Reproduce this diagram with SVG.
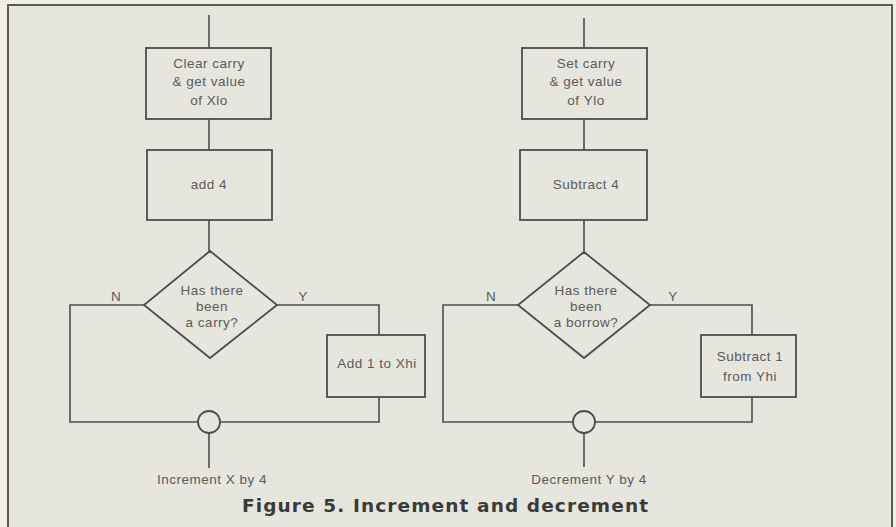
<svg xmlns="http://www.w3.org/2000/svg" width="896" height="527" viewBox="0 0 896 527">
  <style>
    .ln { fill: none; stroke: #4d4d4b; stroke-width: 1.6; }
    .bx { fill: none; stroke: #4d4d4b; stroke-width: 1.8; }
    .frame { fill: none; stroke: #5a5a57; stroke-width: 2; }
    .t { font-family: "Liberation Sans", Arial, sans-serif; font-size: 13.5px; fill: #5c5c5a; text-anchor: middle; letter-spacing: 0.5px; }
    .title { font-family: "DejaVu Sans", "Liberation Sans", sans-serif; font-size: 18.5px; font-weight: bold; fill: #3a3a38; }
  </style>

  <!-- paper -->
  <rect x="0" y="0" width="896" height="527" fill="#f1efe4"/>
  <rect x="8" y="5" width="884" height="522" fill="#e6e5de"/>
  <path class="frame" d="M8 527 V5 H892 V527"/>

  <!-- connectors -->
  <g id="connectors">
    <!-- increment flow -->
    <path class="ln" d="M209 15 V48"/>
    <path class="ln" d="M209 119 V150"/>
    <path class="ln" d="M209 220 V251"/>
    <path class="ln" d="M144 305 H70 V422 H198"/>
    <path class="ln" d="M277 305 H379 V335"/>
    <path class="ln" d="M379 397 V422 H220"/>
    <path class="ln" d="M209 433 V468"/>
    <!-- decrement flow -->
    <path class="ln" d="M584 18 V48"/>
    <path class="ln" d="M584 119 V150"/>
    <path class="ln" d="M584 220 V252"/>
    <path class="ln" d="M518 305 H443 V422 H573"/>
    <path class="ln" d="M650 305 H752 V335"/>
    <path class="ln" d="M752 397 V422 H595"/>
    <path class="ln" d="M584 433 V467"/>
  </g>

  <!-- increment X -->
  <g id="clear-carry">
    <rect class="bx" x="146" y="48" width="125" height="71"/>
    <text class="t" x="209" y="68">Clear carry</text>
    <text class="t" x="209" y="86">&amp; get value</text>
    <text class="t" x="209" y="105">of Xlo</text>
  </g>
  <g id="add-4">
    <rect class="bx" x="147" y="150" width="125" height="70"/>
    <text class="t" x="209" y="189">add 4</text>
  </g>
  <g id="carry-test">
    <polygon class="bx" points="210,251 277,305 210,358 144,305"/>
    <text class="t" x="212" y="295">Has there</text>
    <text class="t" x="212" y="311">been</text>
    <text class="t" x="212" y="327">a carry?</text>
    <text class="t" x="116" y="301">N</text>
    <text class="t" x="303" y="301">Y</text>
  </g>
  <g id="add-1">
    <rect class="bx" x="327" y="335" width="98" height="62"/>
    <text class="t" x="377" y="368">Add 1  to Xhi</text>
  </g>
  <g id="join-x">
    <circle class="bx" cx="209" cy="422" r="11"/>
    <text class="t" x="212" y="484">Increment X by 4</text>
  </g>

  <!-- decrement Y -->
  <g id="set-carry">
    <rect class="bx" x="522" y="48" width="125" height="71"/>
    <text class="t" x="586" y="68">Set carry</text>
    <text class="t" x="586" y="86">&amp; get value</text>
    <text class="t" x="586" y="105">of Ylo</text>
  </g>
  <g id="subtract-4">
    <rect class="bx" x="520" y="150" width="127" height="70"/>
    <text class="t" x="586" y="189">Subtract 4</text>
  </g>
  <g id="borrow-test">
    <polygon class="bx" points="584,252 650,305 584,358 518,305"/>
    <text class="t" x="586" y="295">Has there</text>
    <text class="t" x="586" y="311">been</text>
    <text class="t" x="586" y="327">a borrow?</text>
    <text class="t" x="491" y="301">N</text>
    <text class="t" x="673" y="301">Y</text>
  </g>
  <g id="subtract-1">
    <rect class="bx" x="701" y="335" width="95" height="62"/>
    <text class="t" x="750" y="361">Subtract 1</text>
    <text class="t" x="750" y="381">from Yhi</text>
  </g>
  <g id="join-y">
    <circle class="bx" cx="584" cy="422" r="11"/>
    <text class="t" x="589" y="484">Decrement Y by 4</text>
  </g>

  <text class="title" x="242" y="512" textLength="406" lengthAdjust="spacing">Figure 5. Increment and decrement</text>
</svg>
